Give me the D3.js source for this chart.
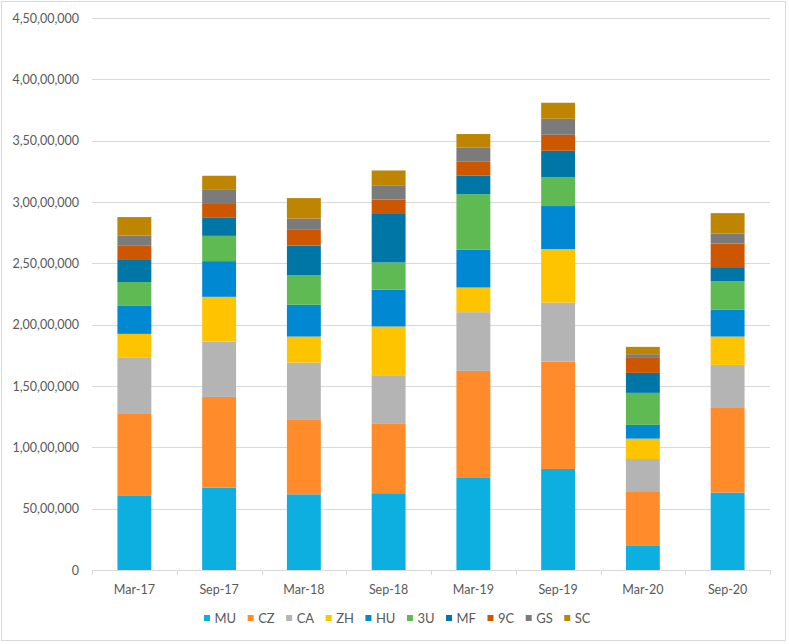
<!DOCTYPE html>
<html>
<head>
<meta charset="utf-8">
<script src="https://cdn.jsdelivr.net/npm/d3@7"></script>
<style>
  body { margin: 0; background: #fff; }
  svg { display: block; font-family: Lato, "Open Sans", sans-serif; }
</style>
</head>
<body>
<div id="chart"></div>
<script>
// data
const periods = ["Mar-17", "Sep-17", "Mar-18", "Sep-18", "Mar-19", "Sep-19", "Mar-20", "Sep-20"];
const airlines = ["MU", "CZ", "CA", "ZH", "HU", "3U", "MF", "9C", "GS", "SC"];
const MU = [6090000, 6710000, 6170000, 6260000, 7560000, 8240000, 1960000, 6310000];
const CZ = [6690000, 7400000, 6120000, 5650000, 8670000, 8750000, 4400000, 6900000];
const CA = [4510000, 4510000, 4620000, 3970000, 4790000, 4810000, 2690000, 3510000];
const ZH = [1960000, 3650000, 2120000, 3970000, 2010000, 4360000, 1660000, 2310000];
const HU = [2280000, 2910000, 2590000, 3010000, 3100000, 3510000, 1120000, 2180000];
const U3 = [1940000, 2060000, 2420000, 2210000, 4510000, 2360000, 2610000, 2340000];
const MF = [1870000, 1470000, 2410000, 4020000, 1500000, 2150000, 1630000, 1140000];
const C9 = [1090000, 1200000, 1280000, 1110000, 1140000, 1300000, 1280000, 1920000];
const GS = [840000, 1080000, 920000, 1120000, 1170000, 1310000, 240000, 820000];
const SC = [1500000, 1150000, 1670000, 1250000, 1090000, 1300000, 600000, 1660000];
const yTicks = [0, 5000000, 10000000, 15000000, 20000000, 25000000, 30000000, 35000000, 40000000, 45000000];
const colors = ["#0cafdf", "#ff8b2b", "#b4b4b4", "#ffc400", "#0088d2", "#5fba54", "#0076a6", "#cd5600", "#7b7b7b", "#bd8500"];

const seriesVals = [MU, CZ, CA, ZH, HU, U3, MF, C9, GS, SC];
const rows = periods.map((p, i) => {
    let r = { period: p };
    airlines.forEach((a, j) => { r[a] = seriesVals[j][i]; });
    return r;
});

const W = 789, H = 644;
const mLeft = 92, mRight = 770, mTop = 18, mBottom = 570;

const svg = d3.select("#chart").append("svg")
    .attr("width", W)
    .attr("height", H);

svg.append("rect")
    .attr("x", 1.5).attr("y", 1.5)
    .attr("width", 784).attr("height", 639)
    .attr("fill", "#fff")
    .attr("stroke", "#d9d9d9");

const x = d3.scaleBand().domain(periods).range([mLeft, mRight]).paddingInner(0.6).paddingOuter(0.3);
const y = d3.scaleLinear().domain([0, 45000000]).range([mBottom, mTop]);

// indian digit grouping
const inLocale = d3.formatLocale({ decimal: ".", thousands: ",", grouping: [3, 2, 2, 2, 2], currency: ["", ""] });
const fmt = inLocale.format(",d");

// gridlines
svg.append("g")
    .selectAll("line")
    .data(yTicks.slice(1))
    .join("line")
    .attr("x1", mLeft).attr("x2", mRight)
    .attr("y1", d => Math.round(y(d)) + 0.5)
    .attr("y2", d => Math.round(y(d)) + 0.5)
    .attr("stroke", "#d9d9d9")
    .attr("stroke-width", 1);

// y labels
const yAxis = d3.axisLeft(y).tickValues(yTicks).tickFormat(fmt).tickSize(0).tickPadding(13);
const gy = svg.append("g").attr("transform", `translate(${mLeft},0)`).call(yAxis);
gy.select(".domain").remove();
gy.selectAll("text").attr("fill", "#595959").style("font-size", "12.5px").style("font-family", "Lato, sans-serif");

// stacked bars
const stack = d3.stack().keys(airlines);
const layers = stack(rows);
svg.append("g")
    .selectAll("g")
    .data(layers)
    .join("g")
    .attr("fill", (d, i) => colors[i])
    .selectAll("rect")
    .data(d => d)
    .join("rect")
    .attr("x", d => x(d.data.period))
    .attr("width", x.bandwidth())
    .attr("y", d => y(d[1]))
    .attr("height", d => y(d[0]) - y(d[1]));

// x axis
const xAxis = svg.append("g");
xAxis.append("line")
    .attr("x1", mLeft).attr("x2", mRight)
    .attr("y1", mBottom + 0.5).attr("y2", mBottom + 0.5)
    .attr("stroke", "#d9d9d9");
const bounds = d3.range(periods.length + 1).map(i => mLeft + i * (mRight - mLeft) / periods.length);
xAxis.selectAll(".tk")
    .data(bounds)
    .join("line")
    .attr("class", "tk")
    .attr("x1", d => Math.round(d) + 0.5).attr("x2", d => Math.round(d) + 0.5)
    .attr("y1", mBottom).attr("y2", mBottom + 5)
    .attr("stroke", "#d9d9d9");
xAxis.selectAll("text")
    .data(periods)
    .join("text")
    .attr("x", d => x(d) + x.bandwidth() / 2)
    .attr("y", 594)
    .attr("text-anchor", "middle")
    .attr("fill", "#595959")
    .style("font-size", "12.5px")
    .text(d => d);

// legend
const legend = svg.append("g");
const items = legend.selectAll("g")
    .data(airlines)
    .join("g");
items.append("rect")
    .attr("width", 6).attr("height", 6)
    .attr("y", -3)
    .attr("fill", (d, i) => colors[i]);
items.append("text")
    .attr("x", 10.5)
    .attr("y", 0)
    .attr("dy", "0.35em")
    .attr("fill", "#595959")
    .style("font-size", "13px")
    .text(d => d);
let pos = 0;
items.each(function() {
    const g = d3.select(this);
    g.attr("transform", `translate(${pos},0)`);
    pos += 10.5 + g.select("text").node().getComputedTextLength() + 11.5;
});
const legW = pos - 11.5;
legend.attr("transform", `translate(${Math.round(397 - legW / 2)},618)`);
</script>
</body>
</html>
